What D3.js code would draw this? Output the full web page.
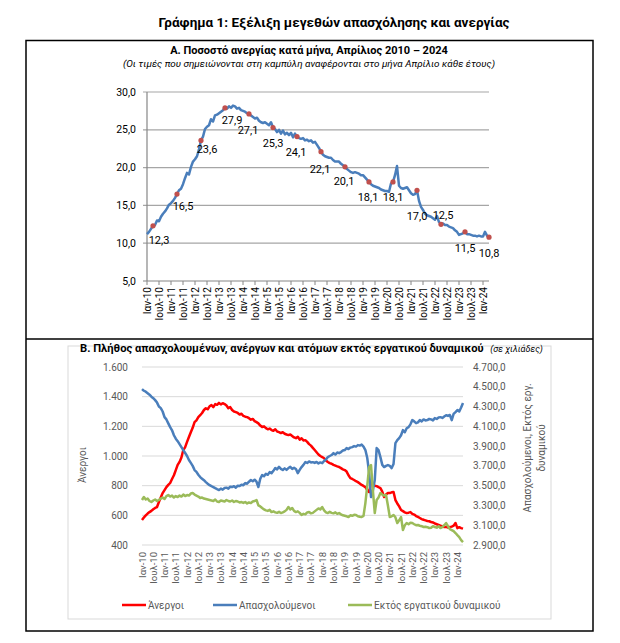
<!DOCTYPE html>
<html>
<head>
<meta charset="utf-8">
<script src="https://cdn.jsdelivr.net/npm/d3@7"></script>
<style>
body { margin: 0; background: #fff; }
text { font-family: Roboto, "Noto Sans", sans-serif; }
</style>
</head>
<body>
<div id="chart"></div>
<script>
// ετικέτες άξονα (ανά 6 μήνες, Ιαν-10 ... Ιαν-24)
const tickLabels = ["Ιαν-10","Ιουλ-10","Ιαν-11","Ιουλ-11","Ιαν-12","Ιουλ-12","Ιαν-13","Ιουλ-13",
  "Ιαν-14","Ιουλ-14","Ιαν-15","Ιουλ-15","Ιαν-16","Ιουλ-16","Ιαν-17","Ιουλ-17","Ιαν-18","Ιουλ-18",
  "Ιαν-19","Ιουλ-19","Ιαν-20","Ιουλ-20","Ιαν-21","Ιουλ-21","Ιαν-22","Ιουλ-22","Ιαν-23","Ιουλ-23","Ιαν-24"];

// Α. ποσοστό ανεργίας, μηνιαία Ιαν 2010 - Απρ 2024
const unemploymentRate = [
  11.2,11.5,11.9,12.3,12.4,13.0,12.9,13.5,13.9,14.2,14.6,15.1,
  15.3,15.6,16.0,16.5,17.0,17.2,17.8,18.6,19.3,19.1,20.1,20.8,
  21.1,21.5,22.4,23.6,24.1,25.1,25.4,25.6,26.4,26.1,26.9,27.0,
  27.2,27.4,27.6,27.9,27.8,28.1,27.9,28.2,28.1,27.8,27.9,27.6,
  27.5,27.4,27.2,27.1,26.9,26.7,26.5,26.6,26.2,26.0,25.9,26.0,
  25.8,25.6,26.0,25.3,25.1,24.7,25.0,24.5,24.9,24.4,24.6,24.3,
  24.6,24.0,24.5,24.1,23.9,23.8,23.9,23.6,23.7,23.5,23.6,23.3,
  23.4,23.0,22.6,22.1,21.7,21.5,21.4,21.3,21.3,21.0,20.8,20.8,
  20.8,20.5,20.3,20.1,19.8,19.6,19.4,19.3,19.4,19.3,19.2,19.0,
  19.0,18.7,18.4,18.1,17.8,17.6,17.5,17.4,17.3,17.1,17.0,16.9,
  16.9,16.8,17.9,18.1,19.0,20.2,17.6,17.3,17.2,17.3,17.4,17.0,
  16.6,16.4,16.5,17.0,15.6,14.8,14.4,13.9,13.7,13.6,13.5,13.3,
  13.1,13.6,12.8,12.5,12.6,12.4,12.4,12.2,12.1,12.0,11.7,11.5,
  11.1,11.2,11.3,11.5,11.2,11.2,11.1,11.0,11.0,10.9,11.0,10.9,
  10.9,11.5,11.0,10.8];

// Β. σε χιλιάδες
const unemployed = [
  568,585,600,612,622,630,641,650,656,690,720,750,
  770,790,805,818,845,870,905,940,960,990,1040,1060,
  1095,1128,1160,1190,1228,1240,1262,1275,1290,1310,1322,1315,
  1335,1343,1330,1350,1345,1358,1348,1356,1350,1340,1322,1330,
  1310,1300,1296,1290,1280,1285,1270,1265,1262,1255,1245,1250,
  1235,1228,1220,1205,1195,1200,1188,1180,1185,1175,1170,1180,
  1165,1161,1155,1160,1150,1145,1141,1145,1135,1125,1120,1130,
  1110,1120,1105,1107,1095,1080,1070,1055,1040,1025,1010,1000,
  993,985,970,960,952,948,940,935,930,926,918,910,
  905,895,870,851,845,838,830,824,815,805,798,790,
  770,757,818,810,800,797,790,784,760,723,740,750,
  750,755,757,703,680,660,636,628,620,615,618,622,
  610,605,595,589,582,575,570,566,562,560,555,552,
  545,540,535,530,526,521,522,518,521,524,530,548,
  514,520,514,510];

const employed = [
  4476,4460,4450,4435,4420,4400,4385,4365,4340,4300,4284,4250,
  4193,4170,4130,4092,4060,4010,3975,3950,3920,3890,3860,3830,
  3800,3759,3730,3700,3658,3640,3610,3587,3570,3555,3536,3520,
  3505,3495,3486,3475,3465,3456,3470,3460,3476,3480,3470,3490,
  3486,3495,3480,3500,3496,3510,3505,3526,3520,3540,3557,3545,
  3560,3540,3486,3570,3607,3595,3620,3610,3637,3625,3650,3678,
  3665,3690,3670,3658,3675,3660,3678,3690,3670,3680,3668,3627,
  3660,3688,3710,3738,3730,3745,3735,3738,3730,3740,3725,3735,
  3728,3750,3765,3789,3800,3810,3829,3815,3835,3829,3840,3855,
  3860,3880,3870,3885,3890,3900,3895,3910,3905,3915,3895,3860,
  3780,3627,3385,3450,3557,3880,3860,3789,3710,3688,3700,3708,
  3700,3678,3720,3930,3960,3981,4010,4062,4040,4080,4092,4120,
  4163,4150,4132,4140,4163,4150,4170,4160,4163,4175,4170,4160,
  4183,4175,4190,4193,4185,4200,4213,4205,4215,4163,4225,4244,
  4264,4250,4290,4335];

const inactive = [
  3355,3385,3360,3370,3345,3335,3350,3360,3345,3355,3370,3380,
  3365,3395,3405,3390,3400,3380,3395,3385,3400,3390,3410,3395,
  3405,3400,3420,3425,3410,3400,3390,3375,3380,3370,3365,3360,
  3355,3350,3345,3360,3340,3335,3350,3345,3340,3355,3345,3340,
  3350,3335,3345,3340,3330,3335,3325,3335,3320,3330,3324,3340,
  3345,3355,3300,3290,3274,3260,3250,3245,3255,3233,3240,3230,
  3225,3235,3223,3230,3240,3255,3284,3260,3274,3245,3233,3240,
  3225,3203,3215,3210,3230,3233,3220,3225,3240,3255,3270,3260,
  3284,3250,3230,3223,3235,3225,3220,3230,3215,3223,3210,3200,
  3195,3190,3183,3200,3195,3205,3203,3190,3185,3183,3195,3324,
  3500,3688,3708,3450,3223,3355,3380,3425,3410,3400,3405,3300,
  3183,3190,3203,3180,3122,3150,3183,3051,3100,3122,3110,3125,
  3122,3110,3100,3102,3095,3090,3082,3085,3080,3072,3075,3090,
  3082,3075,3090,3072,3080,3100,3122,3090,3060,3051,3040,3021,
  3000,2980,2950,2930];

const leftTicks = [400, 600, 800, 1000, 1200, 1400, 1600];
const rightTicks = [2900, 3100, 3300, 3500, 3700, 3900, 4100, 4300, 4500, 4700];
const rateTicks = [5, 10, 15, 20, 25, 30];

// θέση ετικετών Απριλίου (dx, dy) - μόνο διάταξη
const aprLabelOffset = [[6,14],[6,12],[6,9],[7,12],[-1,16],[0,16],[-1,16],[-1,17],
  [-1,14],[-1,15],[0,15],[0,26],[2,-9],[0,16],[0,16]];

const width = 620, height = 643;
const gr = d3.formatLocale({decimal: ",", thousands: ".", grouping: [3], currency: ["", "€"]});
const fmt1 = gr.format(",.1f"), fmt0 = gr.format(",.0f");

const svg = d3.select("#chart").append("svg")
  .attr("width", width).attr("height", height);

// τίτλος
svg.append("text").attr("x", 334).attr("y", 27).attr("text-anchor", "middle")
  .attr("font-size", "13.5px").attr("font-weight", "bold")
  .text("Γράφημα 1: Εξέλιξη μεγεθών απασχόλησης και ανεργίας");

// πλαίσιο
svg.append("rect").attr("x", 26).attr("y", 40.5).attr("width", 567).attr("height", 590.5)
  .attr("fill", "none").attr("stroke", "#000").attr("stroke-width", 1.5);
svg.append("line").attr("x1", 26).attr("x2", 593).attr("y1", 339).attr("y2", 339)
  .attr("stroke", "#000").attr("stroke-width", 1.5);

// ---------- Α ----------
const a = svg.append("g");
a.append("text").attr("x", 309).attr("y", 54).attr("text-anchor", "middle")
  .attr("font-size", "11px").attr("font-weight", "bold")
  .text("Α. Ποσοστό ανεργίας κατά μήνα, Απρίλιος 2010 – 2024");
a.append("text").attr("x", 309).attr("y", 67).attr("text-anchor", "middle")
  .attr("font-size", "9.9px").attr("font-style", "italic")
  .text("(Οι τιμές που σημειώνονται στη καμπύλη αναφέρονται στο μήνα Απρίλιο κάθε έτους)");

const xA = d3.scaleLinear().domain([0, unemploymentRate.length - 1]).range([147, 489]);
const yA = d3.scaleLinear().domain([5, 30]).range([281, 92]);

a.append("g").selectAll("line").data(rateTicks).enter().append("line")
  .attr("x1", 143).attr("x2", 489)
  .attr("y1", d => yA(d)).attr("y2", d => yA(d))
  .attr("stroke", d => d === 5 ? "#868686" : "#a6a6a6").attr("stroke-width", 1.2);
a.append("line").attr("x1", 147).attr("x2", 147).attr("y1", yA(30)).attr("y2", yA(5))
  .attr("stroke", "#868686").attr("stroke-width", 1.2);
a.append("g").selectAll("text").data(rateTicks).enter().append("text")
  .attr("x", 136).attr("y", d => yA(d)).attr("dy", "0.35em").attr("text-anchor", "end")
  .attr("font-size", "10.5px").text(d => fmt1(d));

const tickIdx = tickLabels.map((t, i) => i * 6);
a.append("g").selectAll("line").data(tickIdx).enter().append("line")
  .attr("x1", d => xA(d)).attr("x2", d => xA(d)).attr("y1", 281).attr("y2", 285)
  .attr("stroke", "#868686");
a.append("g").selectAll("text").data(tickLabels).enter().append("text")
  .attr("transform", (d, i) => `translate(${xA(i * 6) + 3.5},287) rotate(-90)`)
  .attr("text-anchor", "end").attr("font-size", "10px").text(d => d);

a.append("path").datum(unemploymentRate)
  .attr("fill", "none").attr("stroke", "#4a7ebb").attr("stroke-width", 2.5)
  .attr("stroke-linejoin", "round")
  .attr("d", d3.line().x((d, i) => xA(i)).y(d => yA(d)));

const aprIdx = aprLabelOffset.map((o, k) => 3 + 12 * k);
a.append("g").selectAll("circle").data(aprIdx).enter().append("circle")
  .attr("cx", d => xA(d)).attr("cy", d => yA(unemploymentRate[d])).attr("r", 2.6)
  .attr("fill", "#c0504d");
a.append("g").selectAll("text").data(aprIdx).enter().append("text")
  .attr("x", (d, k) => xA(d) + aprLabelOffset[k][0])
  .attr("y", (d, k) => yA(unemploymentRate[d]) + aprLabelOffset[k][1])
  .attr("dy", "0.35em").attr("text-anchor", "middle").attr("font-size", "11px")
  .text(d => fmt1(unemploymentRate[d]));

// ---------- Β ----------
const b = svg.append("g");
b.append("rect").attr("x", 68).attr("y", 346).attr("width", 483).attr("height", 273)
  .attr("fill", "#fff").attr("stroke", "#d9d9d9");
const bt = b.append("text").attr("x", 80).attr("y", 352).attr("font-size", "11.2px");
bt.append("tspan").attr("font-weight", "bold")
  .text("Β. Πλήθος απασχολουμένων, ανέργων και ατόμων εκτός εργατικού δυναμικού ");
bt.append("tspan").attr("font-style", "italic").attr("font-size", "9px").attr("dx", 4)
  .text("(σε χιλιάδες)");

const xB = d3.scaleLinear().domain([0, unemployed.length - 1]).range([142, 463]);
const yL = d3.scaleLinear().domain([400, 1600]).range([545, 367]);
const yR = d3.scaleLinear().domain([2900, 4700]).range([545, 367]);

b.append("g").selectAll("line").data(leftTicks).enter().append("line")
  .attr("x1", 142).attr("x2", 463).attr("y1", d => yL(d)).attr("y2", d => yL(d))
  .attr("stroke", "#d9d9d9").attr("stroke-width", 1);
b.append("g").selectAll("text").data(leftTicks).enter().append("text")
  .attr("x", 128).attr("y", d => yL(d)).attr("dy", "0.35em").attr("text-anchor", "end")
  .attr("font-size", "10px").attr("fill", "#595959").text(d => fmt0(d));
b.append("g").selectAll("text").data(rightTicks).enter().append("text")
  .attr("x", 473).attr("y", d => yR(d)).attr("dy", "0.35em")
  .attr("font-size", "10px").attr("fill", "#595959").text(d => fmt1(d));

b.append("text").attr("transform", "translate(86,465) rotate(-90)").attr("text-anchor", "middle")
  .attr("font-size", "10px").attr("fill", "#595959").text("Άνεργοι");
const rt = b.append("text").attr("transform", "translate(531,448) rotate(-90)")
  .attr("text-anchor", "middle").attr("font-size", "10px").attr("fill", "#595959");
rt.append("tspan").attr("x", 0).attr("dy", 0).text("Απασχολούμενοι,  Εκτός  εργ.");
rt.append("tspan").attr("x", 0).attr("dy", 14).text("δυναμικού");

b.append("g").selectAll("text").data(tickLabels).enter().append("text")
  .attr("transform", (d, i) => `translate(${xB(i * 6) + 3.5},552) rotate(-90)`)
  .attr("text-anchor", "end").attr("font-size", "9.5px").attr("fill", "#595959").text(d => d);

const series = [
  {name: "Άνεργοι", data: unemployed, y: yL, color: "#ff0000"},
  {name: "Απασχολούμενοι", data: employed, y: yR, color: "#4a7ebb"},
  {name: "Εκτός εργατικού δυναμικού", data: inactive, y: yR, color: "#9bbb59"}
];
series.forEach(s => {
  b.append("path").datum(s.data)
    .attr("fill", "none").attr("stroke", s.color).attr("stroke-width", 2.5)
    .attr("stroke-linejoin", "round")
    .attr("d", d3.line().x((d, i) => xB(i)).y(d => s.y(d)));
});

// υπόμνημα
const legX = [122, 213, 348];
const leg = b.append("g").selectAll("g").data(series).enter().append("g")
  .attr("transform", (d, i) => `translate(${legX[i]},605)`);
leg.append("line").attr("x1", 0).attr("x2", 24).attr("stroke", d => d.color).attr("stroke-width", 2.5);
leg.append("text").attr("x", 26).attr("dy", "0.35em").attr("font-size", "10px")
  .attr("fill", "#595959").text(d => d.name);
</script>
</body>
</html>
